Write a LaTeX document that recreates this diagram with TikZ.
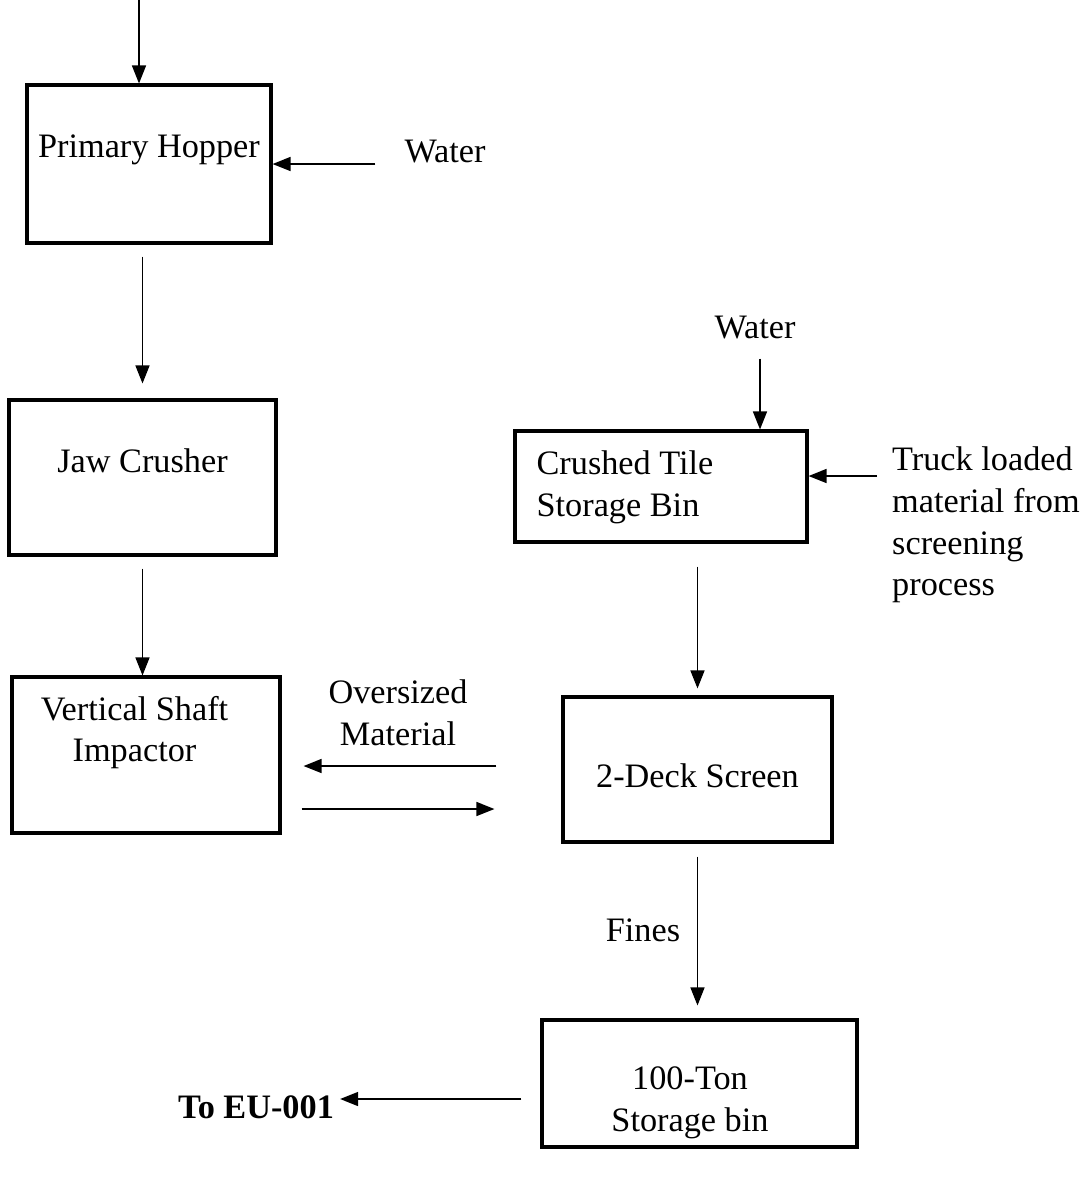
\documentclass[tikz,border=0pt]{standalone}
\usepackage{fontspec}
\setmainfont{Liberation Serif}
\usetikzlibrary{arrows.meta}
\tikzstyle{process} = [rectangle, draw=black, line width=1.8pt]
\tikzstyle{boxtext} = [align=center, font=\fontsize{19.5}{23.8}\selectfont]
\tikzstyle{plain} = [align=center, font=\fontsize{19.5}{23.8}\selectfont]
\tikzstyle{arrow} = [line width=0.85pt, -{Triangle[length=0.36cm, width=0.28cm]}]

\begin{document}
\begin{tikzpicture}
\useasboundingbox (0,0) rectangle (21.84,-23.54);

\node (hopper) [process, minimum width=4.88cm, minimum height=3.16cm, label={[boxtext, yshift=0.28cm]center:Primary Hopper}] at (2.98,-3.28) {};

\node (jaw) [process, minimum width=5.34cm, minimum height=3.1cm, below of=hopper, xshift=-0.13cm, yshift=-5.27cm, label={[boxtext, yshift=0.33cm]center:Jaw Crusher}] {};

\node (vsi) [process, minimum width=5.36cm, minimum height=3.12cm, below of=jaw, xshift=0.07cm, yshift=-4.55cm, label={[boxtext, xshift=-0.23cm, yshift=0.45cm]center:Vertical Shaft\\Impactor}] {};

\node (bin) [process, minimum width=5.84cm, minimum height=2.22cm, label={[boxtext, align=left, anchor=west, xshift=0.34cm, yshift=-0.02cm]west:Crushed Tile\\Storage Bin}] at (13.22,-9.73) {};

\node (screen) [process, minimum width=5.38cm, minimum height=2.9cm, below of=bin, xshift=0.73cm, yshift=-4.66cm, label={[boxtext, yshift=-0.13cm]center:2-Deck Screen}] {};

\node (storage) [process, minimum width=6.3cm, minimum height=2.54cm, below of=screen, xshift=0.04cm, yshift=-5.28cm, label={[boxtext, xshift=-0.19cm, yshift=-0.38cm]center:100-Ton\\Storage bin}] {};

\node (water1) [plain] at (8.9,-3.04) {Water};
\node (water2) [plain] at (15.1,-6.56) {Water};
\node (truck) [plain, align=left, anchor=west] at (17.72,-10.5) {Truck loaded\\material from\\screening\\process};
\node (oversized) [plain] at (7.96,-14.25) {Oversized\\Material};
\node (fines) [plain] at (12.86,-18.6) {Fines};
\node (toeu) [plain, font=\fontsize{19.5}{23.8}\selectfont\bfseries] at (5.12,-22.14) {To EU-001};
\coordinate (feed) at (2.78,0);

\draw [arrow] (feed) -- (feed |- hopper.north);
\draw [arrow, shorten <=0.46cm] (water1.west |- hopper.east) -- (hopper.east);
\draw [arrow, shorten <=0.24cm, shorten >=0.3cm] (hopper.south -| jaw.north) -- (jaw.north);
\draw [arrow, shorten <=0.24cm] (jaw.south) -- (jaw.south |- vsi.north);
\draw [arrow, shorten <=0.26cm] ([xshift=0.1cm]water2.south) -- ([xshift=0.1cm]water2.south |- bin.north);
\draw [arrow, shorten <=0.18cm] ([yshift=0.21cm]bin.east -| truck.west) -- ([yshift=0.21cm]bin.east);
\draw [arrow, shorten <=0.46cm, shorten >=0.14cm] (bin.south -| screen.north) -- (screen.north);
\draw [arrow, shorten <=1.3cm, shorten >=0.44cm] ([yshift=0.07cm]screen.west) -- ([yshift=0.07cm]screen.west -| vsi.east);
\draw [arrow, shorten <=0.4cm, shorten >=1.34cm] ([yshift=-0.79cm]screen.west -| vsi.east) -- ([yshift=-0.79cm]screen.west);
\draw [arrow, shorten <=0.26cm, shorten >=0.26cm] (screen.south) -- (screen.south |- storage.north);
\draw [arrow, shorten <=0.38cm] ([yshift=-0.31cm]storage.west) -- ([yshift=-0.31cm]storage.west -| toeu.east);
\end{tikzpicture}
\end{document}
